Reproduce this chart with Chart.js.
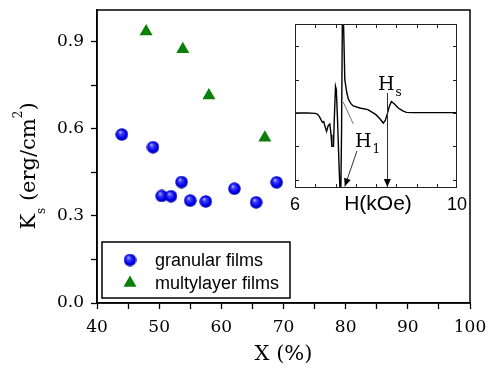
<!DOCTYPE html>
<html>
<head>
<meta charset="utf-8">
<script src="https://cdn.jsdelivr.net/npm/chart.js@4"></script>
<style>
  body { margin: 0; background: #fff; }
  #wrap { position: relative; width: 488px; height: 368px; }
  #main-chart { position: absolute; left: 0; top: 0; }
  #inset-chart { position: absolute; left: 285px; top: 14px; }
</style>
</head>
<body>
<div id="wrap">
  <canvas id="main-chart" width="488" height="368"></canvas>
  <canvas id="inset-chart" width="190" height="205"></canvas>
</div>
<script>
// --- main plot data ---
const granularX = [44, 49, 50.4, 51.9, 53.6, 55.0, 57.5, 62.1, 65.6, 68.9];
const granularY = [0.581, 0.537, 0.369, 0.368, 0.417, 0.353, 0.35, 0.394, 0.347, 0.416];
const multilayerX = [47.9, 53.8, 58.0, 67.0];
const multilayerY = [0.936, 0.875, 0.715, 0.57];
const seriesLabels = ['granular films', 'multylayer films'];

const xTicks = [40, 45, 50, 55, 60, 65, 70, 75, 80, 85, 90, 95, 100];
const xLabels = ['40', '', '50', '', '60', '', '70', '', '80', '', '90', '', '100'];
const yTicks = [0, 0.15, 0.3, 0.45, 0.6, 0.75, 0.9];
const yLabels = ['0.0', '', '0.3', '', '0.6', '', '0.9'];

// --- inset: resonance spectrum ---
const insetH = [6.0, 6.3, 6.5, 6.55, 6.6, 6.64, 6.68, 6.71, 6.74, 6.78, 6.82, 6.86, 6.89, 6.91, 6.95,
      6.97, 7.0, 7.02, 7.05, 7.08, 7.11, 7.13, 7.15, 7.17, 7.2, 7.23, 7.28, 7.32, 7.38, 7.44, 7.6,
      7.8, 8.0, 8.1, 8.18, 8.23, 8.28, 8.33, 8.38, 8.45, 8.55, 8.65, 8.75, 8.9, 10.0];
const insetSignal = [2.0, 2.0, 1.99, 1.97, 1.9, 1.8, 1.72, 1.74, 1.6, 1.45, 1.62, 1.67, 1.35, 1.0, 1.0,
      1.8, 2.8, 2.7, 1.8, 0.7, -0.3, -0.5, 1.5, 4.9, 4.6, 3.0, 2.6, 2.41, 2.28, 2.21, 2.15,
      2.1, 1.95, 1.82, 1.7, 1.78, 1.98, 2.2, 2.34, 2.28, 2.15, 2.07, 2.02, 2.01, 2.01];
const insetXTicks = [6.5, 7, 7.5, 8, 8.5, 9, 9.5];
const insetYTicks = [0, 1, 2, 3, 4];
const insetXLabelValues = [6, 10];
const insetXTitle = 'H(kOe)';

// annotation anchors, in inset data units
const h1Leader = [[7.19, 2.33], [7.44, 1.67]];
const h1Arrow = [[7.53, 0.86], [7.23, -0.2]];
const h1Label = [7.48, 0.98];
const hsArrow = [[8.28, 2.6], [8.28, -0.22]];
const hsLabel = [8.05, 2.69];

// y title pieces: text, font size, baseline shift
const yTitleParts = [['K', 21, 0], ['s', 12, 10], [' (erg/cm', 21, 0], ['2', 12, -13], [')', 21, 0]];

const serif = '"DejaVu Serif", serif';
const sans = '"Liberation Sans", Arial, sans-serif';

// shaded blue ball used as the granular marker
function makeSphere(size) {
      const c = document.createElement('canvas');
      c.width = size;
      c.height = size;
      const g = c.getContext('2d');
      const r = size / 2;
      const grad = g.createRadialGradient(r * 0.72, r * 0.6, 0, r, r, r);
      grad.addColorStop(0, '#e4e4ff');
      grad.addColorStop(0.25, '#4a4aff');
      grad.addColorStop(0.7, '#0000f0');
      grad.addColorStop(1, '#00009a');
      g.fillStyle = grad;
      g.beginPath();
      g.arc(r, r, r - 0.3, 0, Math.PI * 2);
      g.fill();
      return c;
}
const sphere = makeSphere(13);
const green = '#0a7f0a';

const framePlugin = {
      id: 'frame',
      afterDatasetsDraw(chart) {
            const { ctx, chartArea: a } = chart;
            ctx.save();
            ctx.strokeStyle = '#000';
            ctx.lineWidth = 1.5;
            ctx.strokeRect(a.left, a.top, a.right - a.left, a.bottom - a.top);
            ctx.restore();
      }
};

const yTitlePlugin = {
      id: 'yTitle',
      afterDraw(chart) {
            const { ctx } = chart;
            ctx.save();
            let total = 0;
            yTitleParts.forEach(([t, size]) => {
                  ctx.font = size + 'px ' + serif;
                  total += ctx.measureText(t).width;
            });
            ctx.translate(25, 166);
            ctx.rotate(-Math.PI / 2);
            ctx.fillStyle = '#000';
            ctx.textBaseline = 'alphabetic';
            let x = -total / 2;
            yTitleParts.forEach(([t, size, dy]) => {
                  ctx.font = size + 'px ' + serif;
                  ctx.fillText(t, x, 10 + dy);
                  x += ctx.measureText(t).width;
            });
            ctx.restore();
      }
};

const legendBoxPlugin = {
      id: 'legendBox',
      afterDraw(chart) {
            const { ctx, chartArea: a } = chart;
            const left = a.left + 5, top = a.bottom - 61, w = 188, h = 56;
            ctx.save();
            ctx.fillStyle = '#fff';
            ctx.fillRect(left, top, w, h);
            ctx.strokeStyle = '#000';
            ctx.lineWidth = 1.5;
            ctx.strokeRect(left, top, w, h);
            ctx.font = '18px ' + sans;
            ctx.textBaseline = 'middle';
            chart.data.datasets.forEach((ds, i) => {
                  const y = top + 18 + i * 23;
                  ctx.fillStyle = ds.backgroundColor;
                  Chart.helpers.drawPoint(ctx, { pointStyle: ds.pointStyle, radius: ds.pointRadius, rotation: 0, borderWidth: 0 }, left + 28, y);
                  ctx.fillStyle = '#000';
                  ctx.fillText(ds.label, left + 53, y + 1);
            });
            ctx.restore();
      }
};

function drawMainChart() {
      new Chart(document.getElementById('main-chart'), {
      type: 'scatter',
      data: {
            datasets: [{
                  label: seriesLabels[0],
                  data: granularX.map((x, i) => ({ x: x, y: granularY[i] })),
                  pointStyle: sphere,
                  pointRadius: 6.5,
                  backgroundColor: '#0000f0',
                  borderWidth: 0
            }, {
                  label: seriesLabels[1],
                  data: multilayerX.map((x, i) => ({ x: x, y: multilayerY[i] })),
                  pointStyle: 'triangle',
                  pointRadius: 7.5,
                  backgroundColor: green,
                  borderColor: green,
                  borderWidth: 0
            }]
      },
      options: {
            responsive: false,
            animation: false,
            layout: { padding: { top: 10, right: 18, left: 0, bottom: 0 } },
            scales: {
                  x: {
                  type: 'linear', min: 40, max: 100,
                  afterBuildTicks: s => { s.ticks = xTicks.map(v => ({ value: v })); },
                  // fixed axis band; no extra label padding so the plot box stays put
                  afterFit: s => { s.height = 65; s.paddingLeft = 0; s.paddingRight = 0; },
                  grid: { drawOnChartArea: false, tickLength: 6, tickColor: '#000', tickWidth: 1.3 },
                  border: { color: '#000', width: 1.5 },
                  ticks: {
                        callback: (v, i) => xLabels[i],
                        font: { family: serif, size: 17 }, color: '#000',
                        padding: 8, maxRotation: 0, autoSkip: false
                  },
                  title: { display: true, text: 'X (%)', font: { family: serif, size: 21 }, color: '#000', padding: { top: 0, bottom: 1 } }
                  },
                  y: {
                  min: 0, max: 1.01,
                  afterBuildTicks: s => { s.ticks = yTicks.map(v => ({ value: v })); },
                  afterFit: s => { s.width = 97; s.paddingTop = 0; s.paddingBottom = 0; },
                  grid: { drawOnChartArea: false, tickLength: 6, tickColor: '#000', tickWidth: 1.3 },
                  border: { color: '#000', width: 1.5 },
                  ticks: {
                        callback: (v, i) => yLabels[i],
                        font: { family: serif, size: 17 }, color: '#000',
                        padding: 7, autoSkip: false
                  },
                  title: { display: false }
                  }
            },
            plugins: { legend: { display: false }, tooltip: { enabled: false } }
      },
      plugins: [framePlugin, yTitlePlugin, legendBoxPlugin]
      });
}

function arrowHead(ctx, x0, y0, x1, y1) {
      const ang = Math.atan2(y1 - y0, x1 - x0);
      const len = 8, half = 3.5;
      ctx.beginPath();
      ctx.moveTo(x1, y1);
      ctx.lineTo(x1 - len * Math.cos(ang) + half * Math.sin(ang), y1 - len * Math.sin(ang) - half * Math.cos(ang));
      ctx.lineTo(x1 - len * Math.cos(ang) - half * Math.sin(ang), y1 - len * Math.sin(ang) + half * Math.cos(ang));
      ctx.closePath();
      ctx.fill();
}

const insetPlugin = {
      id: 'insetDecor',
      beforeDraw(chart) {
            const { ctx, chartArea: a } = chart;
            ctx.save();
            ctx.fillStyle = '#fff';
            ctx.fillRect(a.left, a.top, a.right - a.left, a.bottom - a.top);
            ctx.restore();
      },
      afterDraw(chart) {
            const { ctx, chartArea: a, scales } = chart;
            const px = v => scales.x.getPixelForValue(v);
            const py = v => scales.y.getPixelForValue(v);
            ctx.save();
            ctx.strokeStyle = '#222';
            ctx.lineWidth = 1;
            ctx.strokeRect(a.left + 0.5, a.top + 0.5, a.right - a.left - 1, a.bottom - a.top - 1);
            // inward ticks on all four sides
            ctx.beginPath();
            insetXTicks.forEach(v => {
                  const x = Math.round(px(v)) + 0.5;
                  ctx.moveTo(x, a.bottom); ctx.lineTo(x, a.bottom - 4);
                  ctx.moveTo(x, a.top); ctx.lineTo(x, a.top + 4);
            });
            insetYTicks.forEach(v => {
                  const y = Math.round(py(v)) + 0.5;
                  ctx.moveTo(a.left, y); ctx.lineTo(a.left + 4, y);
                  ctx.moveTo(a.right, y); ctx.lineTo(a.right - 4, y);
            });
            ctx.stroke();

            // axis labels
            ctx.fillStyle = '#000';
            ctx.textAlign = 'center';
            ctx.textBaseline = 'middle';
            ctx.font = '18px ' + sans;
            insetXLabelValues.forEach(v => ctx.fillText(String(v), px(v), a.bottom + 17));
            ctx.font = '21px ' + sans;
            ctx.fillText(insetXTitle, px(8.05), a.bottom + 16);

            // H1 leader lines
            ctx.strokeStyle = '#777';
            ctx.lineWidth = 1;
            ctx.beginPath();
            ctx.moveTo(px(h1Leader[0][0]), py(h1Leader[0][1]));
            ctx.lineTo(px(h1Leader[1][0]), py(h1Leader[1][1]));
            ctx.stroke();
            ctx.strokeStyle = '#333';
            ctx.beginPath();
            ctx.moveTo(px(h1Arrow[0][0]), py(h1Arrow[0][1]));
            ctx.lineTo(px(h1Arrow[1][0]), py(h1Arrow[1][1]));
            ctx.stroke();
            ctx.fillStyle = '#000';
            arrowHead(ctx, px(h1Arrow[0][0]), py(h1Arrow[0][1]), px(h1Arrow[1][0]), py(h1Arrow[1][1]));

            // Hs arrow
            ctx.beginPath();
            ctx.moveTo(Math.round(px(hsArrow[0][0])) + 0.5, py(hsArrow[0][1]));
            ctx.lineTo(Math.round(px(hsArrow[1][0])) + 0.5, py(hsArrow[1][1]));
            ctx.stroke();
            arrowHead(ctx, px(hsArrow[0][0]), py(hsArrow[0][1]), px(hsArrow[1][0]), py(hsArrow[1][1]));

            // labels with subscripts
            ctx.textAlign = 'left';
            ctx.textBaseline = 'alphabetic';
            [[h1Label, '1'], [hsLabel, 's']].forEach(([pos, sub]) => {
                  const x = px(pos[0]), y = py(pos[1]);
                  ctx.font = '19px ' + serif;
                  ctx.fillText('H', x, y);
                  const w = ctx.measureText('H').width;
                  ctx.font = '12px ' + serif;
                  ctx.fillText(sub, x + w + 1, y + 6);
            });
            ctx.restore();
      }
};

function drawInsetChart() {
      new Chart(document.getElementById('inset-chart'), {
      type: 'line',
      data: {
            datasets: [{
                  data: insetH.map((x, i) => ({ x: x, y: insetSignal[i] })),
                  borderColor: '#000',
                  borderWidth: 1.4,
                  pointRadius: 0,
                  fill: false,
                  tension: 0
            }]
      },
      options: {
            responsive: false,
            animation: false,
            layout: { padding: { left: 10, right: 18, top: 10, bottom: 31 } },
            scales: {
                  x: { type: 'linear', min: 6, max: 10, display: false },
                  y: { min: -0.25, max: 4.67, display: false }
            },
            plugins: { legend: { display: false }, tooltip: { enabled: false } }
      },
      plugins: [insetPlugin]
      });
}

drawMainChart();
drawInsetChart();
</script>
</body>
</html>
